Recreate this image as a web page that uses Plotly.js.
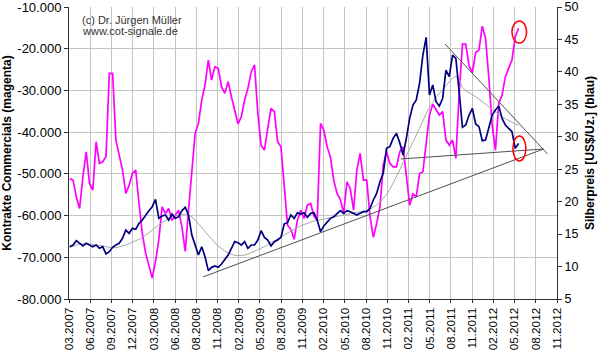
<!DOCTYPE html>
<html><head><meta charset="utf-8">
<script src="https://cdn.plot.ly/plotly-3.0.1.min.js"></script>
<style>html,body{margin:0;padding:0;background:#fff}#chart{width:600px;height:352px}</style>
</head><body><div id="chart"></div>
<script>
// Net positions of commercials (contracts), bi-weekly readings from 2007-03-13
const commercials = [
-51100,-51500,-55500,-58300,-50700,-44700,-52300,-53900,-42300,-47500,
-47100,-45900,-25900,-25900,-41900,-45900,-49100,-54700,-52700,-49900,
-49100,-57100,-64300,-69000,-72200,-75000,-71000,-65800,-57900,-59500,
-58300,-61100,-59900,-58700,-62700,-68600,-58700,-49100,-40300,-37900,
-32300,-28700,-22700,-27500,-24300,-24700,-29100,-30700,-27900,-31500,
-35100,-38000,-36300,-32300,-29500,-25500,-23900,-35500,-43200,-44300,
-39100,-34300,-35100,-42300,-43500,-53100,-62300,-63300,-65700,-61100,
-58700,-60700,-57500,-57100,-60100,-61100,-37900,-39500,-43500,-46000,
-51500,-54700,-56100,-59500,-51900,-53500,-58700,-49100,-45100,-51500,
-51500,-60300,-65200,-61900,-57900,-47900,-44700,-47500,-48300,-48300,
-44700,-43500,-49900,-57500,-54800,-55500,-49900,-49500,-42700,-35900,
-33300,-34700,-35900,-35100,-41900,-43100,-41900,-46300,-30700,-18900,
-18900,-24100,-25700,-20900,-20300,-14600,-17500,-27100,-38300,-44300,
-33100,-31100,-26700,-24700,-22700,-17100,-15100];

// Silver price US$/oz
const silver = [
13.06,13.32,13.99,13.58,13.17,13.58,13.32,13.06,13.32,12.81,
13.06,11.93,12.29,12.96,13.32,13.58,14.35,15.63,15.12,15.89,
15.74,16.66,17.17,17.95,18.61,19.23,20.36,17.43,17.79,17.95,
17.17,18.10,17.43,17.69,18.61,19.13,17.95,14.86,13.17,11.78,
13.06,11.52,9.37,9.88,10.09,9.88,10.39,11.01,11.78,12.81,
13.84,13.68,13.32,13.84,12.81,13.32,13.32,14.09,15.53,14.50,
14.09,13.17,13.84,14.09,14.50,16.56,16.76,17.95,17.43,18.30,
18.10,18.30,17.59,18.20,18.30,17.17,15.38,16.25,16.76,17.43,
17.69,18.10,18.61,18.20,18.61,18.46,18.20,17.95,18.20,18.46,
18.46,18.97,20.26,21.28,23.08,24.37,28.22,28.48,29.76,30.53,
29.09,27.19,29.76,32.84,34.90,35.67,38.24,42.60,45.33,36.44,
37.98,35.41,34.74,35.92,40.29,39.26,42.60,42.09,36.95,31.46,
31.82,33.36,34.38,31.97,31.56,29.40,29.50,31.30,33.36,34.13,
34.74,32.84,31.82,31.30,30.79,28.22,28.99];

// Moving average of the silver price
const silverAvg = [
12.96,13.17,13.32,13.42,13.48,13.53,13.48,13.42,13.37,13.27,
13.17,13.06,12.96,12.91,12.91,13.01,13.17,13.32,13.53,13.73,
13.89,14.20,14.50,14.81,15.22,15.63,16.04,16.46,16.81,17.07,
17.43,17.69,17.84,17.95,18.05,18.05,17.95,17.69,17.17,16.66,
16.04,15.38,14.76,14.20,13.68,13.17,12.76,12.40,12.09,11.88,
11.73,11.68,11.68,11.78,11.93,12.14,12.35,12.60,12.86,13.06,
13.37,13.68,13.99,14.30,14.61,14.91,15.22,15.53,15.79,16.04,
16.30,16.51,16.71,16.87,17.02,17.12,17.23,17.33,17.43,17.53,
17.64,17.74,17.84,17.95,18.05,18.15,18.25,18.36,18.40,18.46,
18.61,18.82,19.13,19.49,19.95,20.46,21.08,21.90,22.83,23.85,
24.88,26.01,27.14,28.22,29.25,30.27,31.30,32.48,33.61,34.54,
35.36,36.08,36.69,37.31,37.93,38.54,39.06,39.37,38.75,37.62,
37.11,36.80,36.54,36.18,35.82,35.46,35.05,34.64,34.23,33.82,
33.46,33.10,32.79,32.48,32.23,31.97,31.82];

const tickLabels = ['03.2007','06.2007','09.2007','12.2007','03.2008','06.2008','08.2008','11.2008',
'02.2009','05.2009','08.2009','11.2009','02.2010','05.2010','08.2010','11.2010',
'02.2011','05.2011','08.2011','11.2011','02.2012','05.2012','08.2012','11.2012'];
const leftTicks = [-80000,-70000,-60000,-50000,-40000,-30000,-20000,-10000];
const leftTickText = ['-80.000','-70.000','-60.000','-50.000','-40.000','-30.000','-20.000','-10.000'];

// Trend lines (silver price scale)
const trendLowX = ['2008-09-28','2012-09-12'];
const trendLowY = [8.39, 28.12];
const trendMidX = ['2011-01-16','2012-09-12'];
const trendMidY = [26.58, 28.12];
const trendHighX = ['2011-07-22','2012-09-29'];
const trendHighY = [44.30, 27.35];

// Highlight circles: [x0, x1, y0, y1] on silver scale
const circleUpper = ['2012-05-01','2012-07-02',44.45,47.84];
const circleLower = ['2012-05-05','2012-06-29',26.27,30.12];

function addDays(base, n){
  const d = new Date(base + 'T00:00:00Z');
  d.setUTCDate(d.getUTCDate() + n);
  return d.toISOString().slice(0,10);
}
const reportDates = commercials.map((_, i) => addDays('2007-03-13', 14*i));
const tickVals = tickLabels.map((_, k) => addDays('2007-03-10', 90*k));

const FONT = 'Liberation Sans, Arial, sans-serif';

const traces = [
  {x: reportDates, y: commercials, type:'scatter', mode:'lines', yaxis:'y',
   line:{color:'#ff00ff', width:1.7}, hoverinfo:'skip'},
  {x: reportDates, y: silverAvg, type:'scatter', mode:'lines', yaxis:'y2',
   line:{color:'#a8a8a8', width:1}, hoverinfo:'skip'},
  {x: reportDates, y: silver, type:'scatter', mode:'lines', yaxis:'y2',
   line:{color:'#000080', width:1.7}, hoverinfo:'skip'},
  {x: trendLowX, y: trendLowY, type:'scatter', mode:'lines', yaxis:'y2',
   line:{color:'#505050', width:1}, hoverinfo:'skip'},
  {x: trendMidX, y: trendMidY, type:'scatter', mode:'lines', yaxis:'y2',
   line:{color:'#505050', width:1}, hoverinfo:'skip'},
  {x: trendHighX, y: trendHighY, type:'scatter', mode:'lines', yaxis:'y2',
   line:{color:'#505050', width:1}, hoverinfo:'skip'}
];

function circ(c){
  return {type:'circle', xref:'x', yref:'y2', x0:c[0], x1:c[1], y0:c[2], y1:c[3],
          line:{color:'#ff0000', width:1.5}};
}

const layout = {
  width:600, height:352,
  margin:{l:69, r:43, t:7, b:53},
  paper_bgcolor:'#ffffff', plot_bgcolor:'#ffffff',
  showlegend:false,
  font:{family:FONT, size:12, color:'#000'},
  xaxis:{
    type:'date', range:['2007-03-10','2012-11-08'],
    tickmode:'array', tickvals:tickVals, ticktext:tickLabels,
    tickangle:-90, tickfont:{size:11.8, family:FONT}, ticklabeloverflow:'allow',
    showgrid:true, gridcolor:'#c4c4c4', gridwidth:1,
    showline:true, linecolor:'#303030', linewidth:1,
    ticks:'outside', ticklen:3, tickcolor:'#303030',
    zeroline:false, fixedrange:true, automargin:false
  },
  yaxis:{
    range:[-80000,-9995], tickmode:'array', tickvals:leftTicks, ticktext:leftTickText,
    tickfont:{size:13, family:FONT}, ticklabeloverflow:'allow',
    showgrid:true, gridcolor:'#c4c4c4', gridwidth:1,
    showline:true, linecolor:'#303030', linewidth:1,
    ticks:'outside', ticklen:4, tickcolor:'#303030', zeroline:false, automargin:false,
    title:{text:'<b>Kontrakte Commercials (magenta)</b>', font:{size:12, family:FONT}, standoff:6}
  },
  yaxis2:{
    overlaying:'y', side:'right', range:[5,50.006], dtick:5, tick0:5,
    tickfont:{size:12.5, family:FONT}, ticklabeloverflow:'allow',
    showgrid:false, showline:true, linecolor:'#303030', linewidth:1,
    ticks:'outside', ticklen:4, tickcolor:'#303030', zeroline:false, automargin:false,
    title:{text:'<b>Silberpreis [US$/Uz.] (blau)</b>', font:{size:12, family:FONT}, standoff:8}
  },
  shapes:[circ(circleUpper), circ(circleLower)],
  annotations:[
    {xref:'paper', yref:'paper', x:0.0225, y:(299-20)/292, xanchor:'left', yanchor:'middle',
     text:'(c) Dr. Jürgen Müller', showarrow:false, font:{size:11, color:'#333', family:FONT}},
    {xref:'paper', yref:'paper', x:0.0225, y:(299-31)/292, xanchor:'left', yanchor:'middle',
     text:'www.cot-signale.de', showarrow:false, font:{size:11, color:'#333', family:FONT}}
  ]
};

Plotly.newPlot('chart', traces, layout, {staticPlot:true, displayModeBar:false});
</script>
</body></html>
